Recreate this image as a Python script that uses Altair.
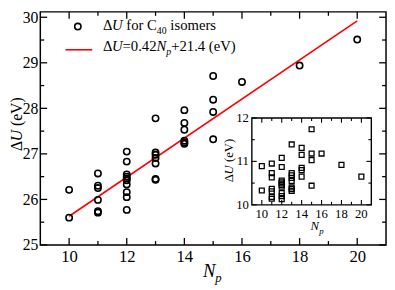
import altair as alt
import pandas as pd

FONT = "Liberation Serif"

# ---------------- data ----------------
main_np = [10, 10,
           11, 11, 11, 11, 11, 11,
           12, 12, 12, 12, 12, 12, 12, 12, 12, 12,
           13, 13, 13, 13, 13, 13, 13,
           14, 14, 14, 14, 14, 14,
           15, 15, 15, 15,
           16, 18, 20]
main_du = [26.21, 25.60,
           26.57, 26.30, 26.25, 25.99, 25.74, 25.71,
           27.05, 26.83, 26.55, 26.50, 26.46, 26.42, 26.33, 26.16, 26.05, 25.77,
           27.78, 27.03, 26.98, 26.91, 26.79, 26.45, 26.43,
           27.96, 27.68, 27.53, 27.29, 27.25, 27.22,
           28.71, 28.19, 27.92, 27.32,
           28.58, 28.94, 29.51]

fit_np = [10, 20]
fit_du = [25.63, 29.92]

inset_np = [10, 10,
            11, 11, 11, 11, 11, 11, 11,
            12, 12, 12, 12, 12, 12, 12, 12, 12, 12,
            13, 13, 13, 13, 13, 13, 13, 13,
            14, 14, 14, 14, 14,
            15, 15, 15, 15,
            16, 18, 20]
inset_du = [10.89, 10.33,
            10.95, 10.73, 10.63, 10.37, 10.31, 10.18, 10.14,
            11.08, 10.87, 10.56, 10.52, 10.49, 10.46, 10.42, 10.27, 10.20, 10.13,
            11.39, 10.73, 10.68, 10.62, 10.55, 10.40, 10.36, 10.32,
            11.31, 11.15, 10.85, 10.80, 10.65,
            11.74, 11.18, 11.03, 10.44,
            11.18, 10.92, 10.65]

main_x_major = [10, 12, 14, 16, 18, 20]
main_x_minor = [11, 13, 15, 17, 19]
main_y_major = [25, 26, 27, 28, 29, 30]
main_y_minor = [25.5, 26.5, 27.5, 28.5, 29.5]
main_x_dom = [9, 21]
main_y_dom = [25, 30.118]

inset_x_major = [10, 12, 14, 16, 18, 20]
inset_x_minor = [11, 13, 15, 17, 19]
inset_y_major = [10, 11, 12]
inset_y_minor = [10.5, 11.5]
inset_x_dom = [9, 21]
inset_y_dom = [10, 12]

# ---------------- layout ----------------
W, H = 353, 238
IX0, IX1, IY0, IY1 = 216, 338, 197, 108.3   # inset plot box (pixels inside main view)

df_main = pd.DataFrame({"np": main_np, "du": main_du})
df_fit = pd.DataFrame({"np": fit_np, "du": fit_du})
df_inset = pd.DataFrame({"np": inset_np, "du": inset_du})
one = pd.DataFrame({"k": [0]})


def xs_main():
    return alt.Scale(domain=main_x_dom, nice=False, zero=False)


def ys_main():
    return alt.Scale(domain=main_y_dom, nice=False, zero=False)


def xs_in():
    return alt.Scale(domain=inset_x_dom, range=[IX0, IX1], nice=False, zero=False)


def ys_in():
    return alt.Scale(domain=inset_y_dom, range=[IY0, IY1], nice=False, zero=False)


def xticks(vals, scale, y_bottom, y_top, length, sw):
    d = pd.DataFrame({"t": vals})
    base = alt.Chart(d).mark_rule(color="black", strokeWidth=sw)
    b = base.encode(x=alt.X("t:Q", scale=scale, axis=None),
                    y=alt.value(y_bottom), y2=alt.value(y_bottom - length))
    t = base.encode(x=alt.X("t:Q", scale=scale, axis=None),
                    y=alt.value(y_top), y2=alt.value(y_top + length))
    return [b, t]


def yticks(vals, scale, x_left, x_right, length, sw):
    d = pd.DataFrame({"t": vals})
    base = alt.Chart(d).mark_rule(color="black", strokeWidth=sw)
    l = base.encode(y=alt.Y("t:Q", scale=scale, axis=None),
                    x=alt.value(x_left), x2=alt.value(x_left + length))
    r = base.encode(y=alt.Y("t:Q", scale=scale, axis=None),
                    x=alt.value(x_right), x2=alt.value(x_right - length))
    return [l, r]


def txt(s, x, y, size, italic=False, angle=0, align="left", baseline="alphabetic"):
    return alt.Chart(one).mark_text(
        text=s, font=FONT, fontSize=size,
        fontStyle="italic" if italic else "normal",
        angle=angle, align=align, baseline=baseline, color="black",
    ).encode(x=alt.value(x), y=alt.value(y))


layers = []

# main ticks (inward, mirrored)
layers += xticks(main_x_major, xs_main(), H, 0, 7, 1.3)
layers += xticks(main_x_minor, xs_main(), H, 0, 4, 1.3)
layers += yticks(main_y_major, ys_main(), 0, W, 7, 1.3)
layers += yticks(main_y_minor, ys_main(), 0, W, 4, 1.3)

# fit line
layers.append(
    alt.Chart(df_fit).mark_line(color="#ff0000", strokeWidth=1.6).encode(
        x=alt.X("np:Q", scale=xs_main(), axis=None),
        y=alt.Y("du:Q", scale=ys_main(), axis=None),
    )
)

# main points (carry the tick labels)
layers.append(
    alt.Chart(df_main).mark_point(shape="circle", filled=False, color="black",
                                  size=42, strokeWidth=1.6, opacity=1).encode(
        x=alt.X("np:Q", scale=xs_main(),
                axis=alt.Axis(values=main_x_major, ticks=False, domain=False, grid=False,
                              title=None, labelFont=FONT, labelFontSize=17,
                              labelColor="black", labelPadding=4, labelFlush=False,
                              labelOverlap=False)),
        y=alt.Y("du:Q", scale=ys_main(),
                axis=alt.Axis(values=main_y_major, ticks=False, domain=False, grid=False,
                              title=None, labelFont=FONT, labelFontSize=16,
                              labelColor="black", labelPadding=2.5, labelFlush=False,
                              labelOverlap=False)),
    )
)

# main axis titles
layers.append(txt("Δ", -23.5, 142, 16, angle=270, baseline="middle"))
layers.append(txt("U", -23.5, 132.2, 16, italic=True, angle=270, baseline="middle"))
layers.append(txt("(eV)", -23.5, 116.6, 16, angle=270, baseline="middle"))
layers.append(txt("N", 166, 271, 19, italic=True))
layers.append(txt("p", 178.5, 276, 13, italic=True))

# legend
layers.append(alt.Chart(one).mark_point(shape="circle", filled=False, color="black",
                                        size=42, strokeWidth=1.6, opacity=1).encode(
    x=alt.value(38.3), y=alt.value(15)))
layers.append(alt.Chart(one).mark_rule(color="#ff0000", strokeWidth=1.6).encode(
    x=alt.value(25.7), x2=alt.value(53), y=alt.value(38.7)))
layers.append(txt("Δ", 64, 18, 15))
layers.append(txt("U", 73.2, 18, 15, italic=True))
layers.append(txt("for C", 87.8, 18, 15))
layers.append(txt("40", 119, 22.5, 10))
layers.append(txt("isomers", 132.8, 18, 15))
layers.append(txt("Δ", 64, 40, 15))
layers.append(txt("U", 73.2, 40, 15, italic=True))
layers.append(txt("=0.42", 84, 40, 15))
layers.append(txt("N", 118.7, 40, 15, italic=True))
layers.append(txt("p", 128.7, 44, 10, italic=True))
layers.append(txt("+21.4 (eV)", 133.7, 40, 15))

# inset box
box = pd.DataFrame({"x1": [inset_x_dom[0]], "x2": [inset_x_dom[1]],
                    "y1": [inset_y_dom[0]], "y2": [inset_y_dom[1]]})
layers.append(alt.Chart(box).mark_rect(fill="white", stroke="black", strokeWidth=1.4).encode(
    x=alt.X("x1:Q", scale=xs_in(), axis=None), x2="x2:Q",
    y=alt.Y("y1:Q", scale=ys_in(), axis=None), y2="y2:Q"))

layers += xticks(inset_x_major, xs_in(), IY0, IY1, 5, 1.1)
layers += xticks(inset_x_minor, xs_in(), IY0, IY1, 3, 1.1)
layers += yticks(inset_y_major, ys_in(), IX0, IX1, 5, 1.1)
layers += yticks(inset_y_minor, ys_in(), IX0, IX1, 3, 1.1)

layers.append(
    alt.Chart(df_inset).mark_point(shape="square", filled=False, color="black",
                                   size=25, strokeWidth=1.3, opacity=1).encode(
        x=alt.X("np:Q", scale=xs_in(), axis=None),
        y=alt.Y("du:Q", scale=ys_in(), axis=None),
    )
)

# inset tick labels
layers.append(alt.Chart(pd.DataFrame({"t": inset_x_major})).mark_text(
    font=FONT, fontSize=13, color="black", baseline="middle", align="center").encode(
    x=alt.X("t:Q", scale=xs_in(), axis=None), y=alt.value(IY0 + 9),
    text=alt.Text("t:Q", format="d")))
layers.append(alt.Chart(pd.DataFrame({"t": inset_y_major})).mark_text(
    font=FONT, fontSize=13, color="black", baseline="middle", align="right").encode(
    y=alt.Y("t:Q", scale=ys_in(), axis=None), x=alt.value(IX0 - 3),
    text=alt.Text("t:Q", format="d")))

# inset titles
layers.append(txt("Δ", 192.7, 174, 13, angle=270, baseline="middle"))
layers.append(txt("U", 192.7, 166, 13, italic=True, angle=270, baseline="middle"))
layers.append(txt("(eV)", 192.7, 153.3, 13, angle=270, baseline="middle"))
layers.append(txt("N", 276, 223, 13, italic=True))
layers.append(txt("p", 284.7, 226.5, 9, italic=True))

chart = alt.layer(*layers).resolve_scale(x="independent", y="independent").properties(
    width=W, height=H,
    autosize=alt.AutoSizeParams(type="none"),
    padding={"left": 33, "top": 1, "right": 1, "bottom": 42},
).configure_view(stroke="black", strokeWidth=1.5)

chart.save("out.html", embed_options={"renderer": "svg", "actions": False})
